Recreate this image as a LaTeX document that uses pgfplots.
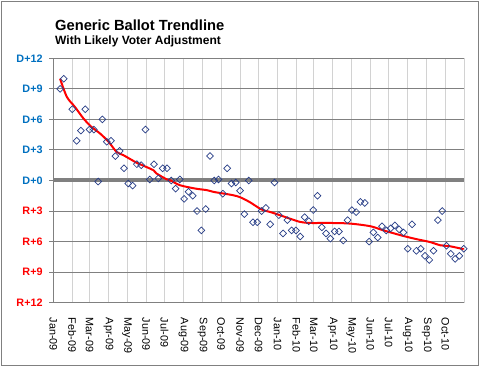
\documentclass[border=0pt]{standalone}
\usepackage{pgfplots}
\pgfplotsset{compat=1.18}
\usepackage{fontspec}
\setmainfont{Liberation Sans}
\definecolor{dblue}{RGB}{0,112,192}
\definecolor{rred}{RGB}{255,0,0}
\definecolor{navy}{RGB}{40,62,135}
\definecolor{axgray}{RGB}{128,128,128}
\definecolor{vgrid}{RGB}{210,210,210}
\pgfplotstableread{
day v
11 9.0
17 10.0
31 7.0
38 3.9
45 4.9
52 7.0
59 5.0
66 5.0
73 -0.1
80 6.0
87 3.8
94 3.9
101 2.4
108 2.9
115 1.2
122 -0.3
129 -0.5
136 1.6
143 1.5
150 5.0
157 0.1
164 1.6
171 0.2
178 1.2
185 1.2
192 0.0
199 -0.8
206 0.1
213 -1.8
220 -1.1
227 -1.5
234 -3.0
241 -4.9
248 -2.8
255 2.4
262 0.0
269 0.1
276 -1.3
283 1.2
290 -0.3
297 -0.2
304 -1.0
311 -3.3
318 0.0
325 -4.1
332 -4.1
339 -3.0
346 -2.7
353 -4.3
360 -0.2
367 -3.4
374 -5.2
381 -3.9
388 -4.9
395 -4.9
402 -5.5
409 -3.6
416 -4.0
423 -2.9
430 -1.5
437 -4.6
444 -5.2
451 -5.7
458 -5.0
465 -5.0
472 -5.9
479 -3.9
486 -2.9
493 -3.1
500 -2.1
507 -2.2
514 -6.0
521 -5.1
528 -5.6
535 -4.5
542 -4.9
549 -4.7
556 -4.4
563 -4.8
570 -5.1
577 -6.7
584 -4.3
591 -6.9
598 -6.7
605 -7.4
612 -7.8
619 -6.9
626 -3.9
633 -3.0
640 -6.4
647 -7.2
654 -7.7
661 -7.4
668 -6.7
}\polls
\pgfplotstableread{
day v
11 10.0
22 8.22
35 7.24
49 6.10
62 5.27
76 4.62
90 3.80
103 2.81
114 2.49
136 1.73
141 1.60
163 1.01
168 0.69
185 0.10
190 0.03
206 -0.46
231 -0.79
250 -0.95
261 -1.12
277 -1.28
293 -1.45
304 -1.64
320 -2.13
339 -2.85
353 -3.09
369 -3.41
385 -3.74
402 -4.07
418 -4.17
451 -4.17
483 -4.23
516 -4.49
537 -4.89
570 -5.45
592 -5.77
613 -6.04
630 -6.36
646 -6.46
668 -6.75
}\trend
\begin{document}
\begin{tikzpicture}[x=1pt,y=1pt]
\path[use as bounding box] (0,0) rectangle (480,367);
\draw[axgray, line width=1pt] (1.5,1.5) rectangle (478.5,365.5);
\node[anchor=base west, font=\fontsize{14.7}{16}\selectfont\bfseries, inner sep=0pt] at (55,336.3) {Generic Ballot Trendline};
\node[anchor=base west, font=\fontsize{12}{14}\selectfont\bfseries, inner sep=0pt] at (55,322.7) {With Likely Voter Adjustment};
\begin{axis}[
  at={(53.3pt,64.3pt)}, anchor=south west,
  width=411pt, height=244.4pt, scale only axis,
  xmin=0, xmax=669, ymin=-12, ymax=12,
  clip=false,
  axis x line*=bottom, axis y line*=left,
  axis line style={-, draw=axgray, line width=1pt},
  ytick={-12,-9,...,12},
  yticklabels={{\color{rred}R+12},{\color{rred}R+9},{\color{rred}R+6},{\color{rred}R+3},{\color{dblue}D+0},{\color{dblue}D+3},{\color{dblue}D+6},{\color{dblue}D+9},{\color{dblue}D+12}},
  yticklabel style={font=\fontsize{10.8}{12}\selectfont\bfseries, anchor=east, inner sep=0pt},
  yticklabel shift=6.5pt,
  xtick={0,31,59,90,120,151,181,212,243,273,304,334,365,396,424,455,485,516,546,577,608,638},
  xticklabels={Jan-09,Feb-09,Mar-09,Apr-09,May-09,Jun-09,Jul-09,Aug-09,Sep-09,Oct-09,Nov-09,Dec-09,Jan-10,Feb-10,Mar-10,Apr-10,May-10,Jun-10,Jul-10,Aug-10,Sep-10,Oct-10},
  xticklabel style={font=\fontsize{10.8}{12}\selectfont, rotate=-90, anchor=west, inner sep=0pt},
  xticklabel shift=11pt,
  x tick style={draw=none},
  y tick style={draw=axgray, line width=1pt},
  tick align=outside, major tick length=4pt,
  xmajorgrids, ymajorgrids,
  x grid style={vgrid, line width=1pt},
  y grid style={axgray, line width=1pt},
]
\draw[vgrid, line width=1pt] (axis cs:669,-12) -- (axis cs:669,12);
\addplot[axgray, line width=4pt, forget plot] coordinates {(0,0) (669,0)};
\addplot[only marks, mark=square, mark size=2.4pt, mark options={rotate=45, draw=navy, line width=0.7pt, fill=none}] table[x=day,y=v] {\polls};
\addplot[rred, line width=2pt, smooth, no marks] table[x=day,y=v] {\trend};
\end{axis}
\end{tikzpicture}
\end{document}
